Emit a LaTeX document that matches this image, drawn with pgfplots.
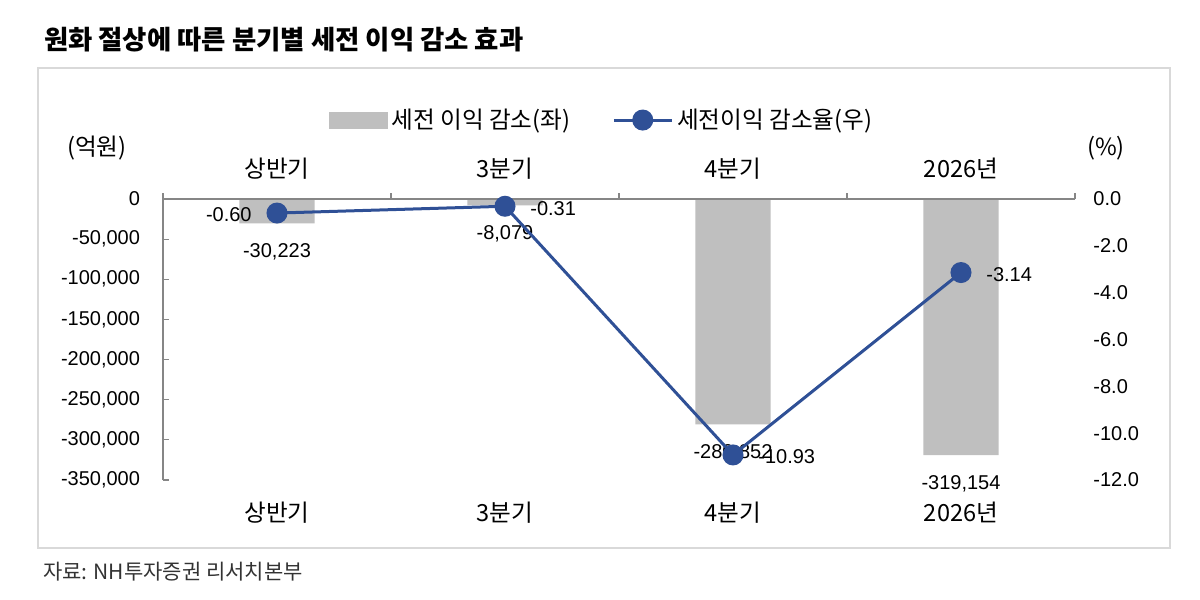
\documentclass[border=0pt]{standalone}
\usepackage{pgfplots}
\pgfplotsset{compat=1.18}
\usepackage{pgfplotstable}
\usepackage{fontspec}
\setmainfont{Liberation Sans}
\newfontfamily\kr{Noto Sans CJK KR}
\definecolor{barc}{RGB}{191,191,191}
\definecolor{linec}{RGB}{47,80,150}
\definecolor{axisc}{RGB}{134,134,134}
\definecolor{framec}{RGB}{217,217,217}
\newcommand\fs{\fontsize{10bp}{12bp}\selectfont}
\newcommand\fk{\kr\fontsize{11.8bp}{13bp}\selectfont}

% 세전 이익 감소 (억원)
\pgfplotstableread{
x y
0 -30223
1 -8079
2 -280852
3 -319154
}\bars
% 세전이익 감소율 (%)
\pgfplotstableread{
x y
0 -0.60
1 -0.31
2 -10.93
3 -3.14
}\rates

\begin{document}
\begin{tikzpicture}
\path[use as bounding box] (0,0) rectangle (600bp,-300bp);

\begin{scope}[x=0.5bp,y=-0.5bp]
\draw[framec, line width=1bp] (38,68) rectangle (1170,548);
\node[anchor=west, font=\kr\bfseries\fontsize{13.2bp}{15bp}\selectfont] at (37,40) {원화 절상에 따른 분기별 세전 이익 감소 효과};
\node[anchor=west, font=\kr\fontsize{10.5bp}{12bp}\selectfont, text=black!80] at (36,572) {자료: NH투자증권 리서치본부};
\node[font=\fk] at (97,148) {(억원)};
\node[font=\fk] at (1106,148) {(\%)};
\end{scope}

% left axis: bars
\begin{axis}[
  at={(81.5bp,-240bp)}, anchor=south west,
  scale only axis, width=456bp, height=140.5bp,
  xmin=-0.5, xmax=3.5, ymin=-350000, ymax=0,
  axis x line*=bottom, axis y line*=left,
  x axis line style={draw=none},
  y axis line style={draw=axisc, line width=0.6bp},
  xtick={0,1,2,3}, xticklabels={상반기,3분기,4분기,2026년},
  x tick label style={font=\fk, yshift=-7.5bp},
  ytick={-350000,-300000,...,0},
  scaled y ticks=false,
  y tick label style={font=\fs, xshift=-8bp},
  tick align=inside, major tick length=3bp,
  x tick style={draw=none},
  y tick style={draw=axisc, line width=0.6bp},
  /pgf/number format/fixed,
  /pgf/number format/1000 sep={,},
  /pgf/number format/assume math mode=true,
]
\addplot[ybar, bar width=0.33, fill=barc, draw=none,
  nodes near coords, point meta=y,
  every node near coord/.append style={font=\fs, anchor=north, inner sep=0pt, yshift=-9.9bp}]
  table[x=x, y=y] {\bars};
\end{axis}

% right axis: line
\begin{axis}[
  at={(81.5bp,-240bp)}, anchor=south west,
  scale only axis, width=456bp, height=140.5bp,
  xmin=-0.5, xmax=3.5, ymin=-12, ymax=0,
  axis x line*=top, axis y line*=right,
  x axis line style={draw=axisc, line width=0.6bp},
  y axis line style={draw=none},
  xtick={0,1,2,3}, xticklabels={상반기,3분기,4분기,2026년},
  minor xtick={-0.5,0.5,1.5,2.5,3.5},
  tick align=outside, major tick length=0pt, minor tick length=3bp,
  minor x tick style={draw=axisc, line width=0.6bp},
  x tick label style={font=\fk, yshift=6.5bp},
  ytick={-12,-10,...,0},
  y tick label style={font=\fs, xshift=5.7bp, /pgf/number format/.cd, fixed, fixed zerofill, precision=1, assume math mode=true},
  legend style={at={(0.482,1.281)}, anchor=center, draw=none, fill=none,
    font=\fk, legend columns=2,
    /tikz/every even column/.append style={column sep=19bp}},
  legend cell align=left,
  lbl/.style={draw=none, mark=none, forget plot, point meta=y,
    nodes near coords={\pgfmathprintnumber[fixed, fixed zerofill, precision=2, assume math mode=true]{\pgfplotspointmeta}},
    every node near coord/.append style={font=\fs, text=black, inner sep=0pt, yshift=-1bp}},
]
\addlegendimage{legend image code/.code={\fill[barc] (0bp,-4bp) rectangle (29bp,4bp);}}
\addlegendentry{세전 이익 감소(좌)}
\addplot[linec, line width=1.5bp, mark=*, mark size=4.5bp,
  mark options={fill=linec, draw=linec},
  legend image code/.code={\draw[linec, line width=1.5bp] (0bp,0bp) -- (29bp,0bp); \fill[linec] (14.5bp,0bp) circle (4.5bp);}]
  table[x=x, y=y] {\rates};
\addlegendentry{세전이익 감소율(우)}
% data labels of the line
\addplot[lbl, restrict expr to domain={\coordindex}{0:0},
  every node near coord/.append style={anchor=east, xshift=-12.5bp}]
  table[x=x, y=y] {\rates};
\addplot[lbl, restrict expr to domain={\coordindex}{1:3},
  every node near coord/.append style={anchor=west, xshift=12.5bp}]
  table[x=x, y=y] {\rates};
\end{axis}
\end{tikzpicture}
\end{document}
